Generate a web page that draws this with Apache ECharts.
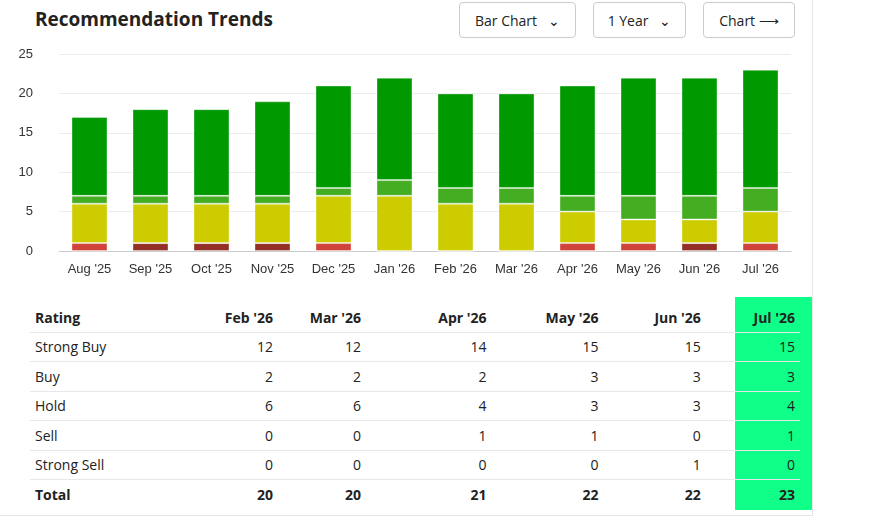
<!DOCTYPE html>
<html>
<head>
<meta charset="utf-8">
<script src="https://cdn.jsdelivr.net/npm/echarts@6/dist/echarts.min.js"></script>
<style>
  body { margin: 0; font-family: "Segoe UI", "Open Sans", "Noto Sans", sans-serif; background: #fff; }
  #wrap { position: relative; width: 875px; height: 519px; overflow: hidden; }
  #card { position: absolute; left: 0; top: 0; width: 812px; height: 515px; border-right: 1px solid #e5e5e5; border-bottom: 1px solid #e5e5e5; }
  h2 { position: absolute; left: 35px; top: 6px; margin: 0; font-size: 19px; font-weight: 700; color: #222; }
  .btn { position: absolute; top: 2px; height: 36px; border: 1px solid #ccc; border-radius: 4px; font-size: 14px; color: #222; display: flex; align-items: center; justify-content: center; box-sizing: border-box; }
  #chart { position: absolute; left: 0; top: 40px; width: 812px; height: 250px; }
  table { position: absolute; left: 30px; top: 303px; width: 770px; border-collapse: collapse; font-size: 14px; color: #222; }
  td, th { height: 28.5px; padding: 0 5px; border-bottom: 1px solid #e8e8e8; text-align: right; }
  th { font-weight: 700; }
  td:first-child, th:first-child { text-align: left; }
  tr:last-child td { font-weight: 700; border-bottom: none; }
  #hl { position: absolute; left: 735px; top: 297px; width: 77px; height: 213px; background: #10ff88; }
</style>
</head>
<body>
<div id="wrap">
  <div id="card"></div>
  <h2>Recommendation Trends</h2>
  <div class="btn" style="left:459px;width:117px;">Bar Chart &nbsp;&nbsp;&#8964;</div>
  <div class="btn" style="left:593px;width:93px;">1 Year &nbsp;&nbsp;&#8964;</div>
  <div class="btn" style="left:703px;width:92px;">Chart &#10230;</div>
  <div id="chart"></div>
  <div id="hl"></div>
  <table id="tbl"></table>
</div>
<script>
var months = ["Aug '25", "Sep '25", "Oct '25", "Nov '25", "Dec '25", "Jan '26", "Feb '26", "Mar '26", "Apr '26", "May '26", "Jun '26", "Jul '26"];
var strongSell = [0, 1, 1, 1, 0, 0, 0, 0, 0, 0, 1, 0];
var sell       = [1, 0, 0, 0, 1, 0, 0, 0, 1, 1, 0, 1];
var hold       = [5, 5, 5, 5, 6, 7, 6, 6, 4, 3, 3, 4];
var buy        = [1, 1, 1, 1, 1, 2, 2, 2, 2, 3, 3, 3];
var strongBuy  = [10, 11, 11, 12, 13, 13, 12, 12, 14, 15, 15, 15];
var yTicks = [0, 5, 10, 15, 20, 25];

// 图表
var myChart = echarts.init(document.getElementById('chart'));
function s(name, data, color) {
    return {
        name: name, type: 'bar', stack: 'all', data: data, barWidth: '59%',
        itemStyle: { color: color, borderColor: 'rgba(255,255,255,0.35)', borderWidth: 1 }
    };
}
myChart.setOption({
    animation: false,
    grid: { left: 59, right: 21, top: 14, bottom: 39 },
    xAxis: {
        type: 'category', data: months,
        axisTick: { show: false },
        axisLine: { lineStyle: { color: '#ccc' } },
        axisLabel: { color: '#333', fontSize: 13, margin: 12 }
    },
    yAxis: {
        type: 'value', min: yTicks[0], max: yTicks[yTicks.length - 1], interval: 5,
        axisLabel: { color: '#333', fontSize: 13, margin: 26 },
        splitLine: { lineStyle: { color: '#ececec' } }
    },
    series: [
        s('Strong Sell', strongSell, '#932f26'),
        s('Sell', sell, '#d0433a'),
        s('Hold', hold, '#cccc00'),
        s('Buy', buy, '#44ad22'),
        s('Strong Buy', strongBuy, '#009900')
    ]
});

// 表格 (last 6 months)
var rows = [['Strong Buy', strongBuy], ['Buy', buy], ['Hold', hold], ['Sell', sell], ['Strong Sell', strongSell]];
var widths = [150, 100, 85, 128, 112, 102, 93];
var html = '<tr><th style="width:' + widths[0] + 'px">Rating</th>';
for (var i = 6; i < 12; i++) html += '<th style="width:' + widths[i - 5] + 'px">' + months[i] + '</th>';
html += '</tr>';
rows.forEach(function(r) {
    html += '<tr><td>' + r[0] + '</td>';
    for (var i = 6; i < 12; i++) html += '<td>' + r[1][i] + '</td>';
    html += '</tr>';
});
html += '<tr><td>Total</td>';
for (var i = 6; i < 12; i++) html += '<td>' + (strongBuy[i] + buy[i] + hold[i] + sell[i] + strongSell[i]) + '</td>';
html += '</tr>';
document.getElementById('tbl').innerHTML = html;
</script>
</body>
</html>
